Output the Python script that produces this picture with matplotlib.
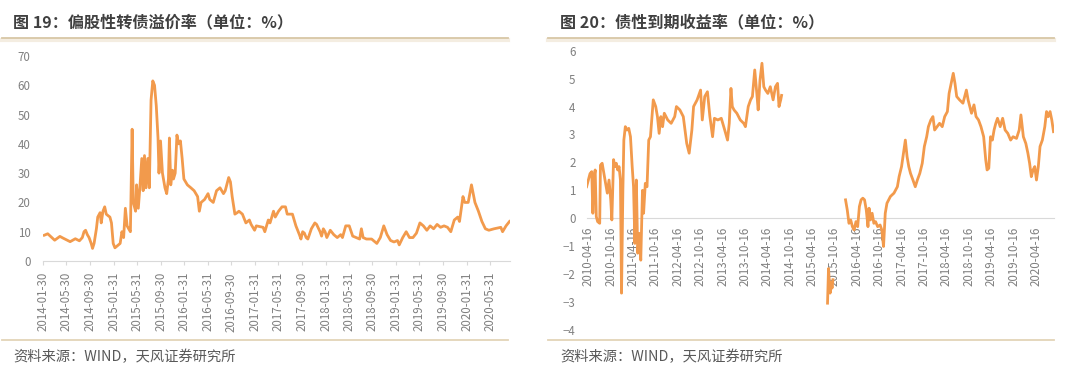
import numpy as np
import pandas as pd
import matplotlib
matplotlib.use("Agg")
import matplotlib.pyplot as plt
from matplotlib.lines import Line2D

plt.rcParams['font.family'] = ['Noto Sans CJK SC', 'DejaVu Sans']

# ---- 图19 偏股性转债溢价率 (%) ----
left_dates = [
    "2014-02-04", "2014-02-22", "2014-03-12", "2014-03-30", "2014-04-26", "2014-05-13",
    "2014-06-18", "2014-07-15", "2014-08-05", "2014-08-20", "2014-08-29", "2014-09-06",
    "2014-09-15", "2014-09-24", "2014-10-05", "2014-10-12", "2014-10-20", "2014-11-01",
    "2014-11-08", "2014-11-20", "2014-11-26", "2014-12-05", "2014-12-14", "2014-12-22",
    "2014-12-31", "2015-01-10", "2015-01-18", "2015-01-27", "2015-02-05", "2015-02-14",
    "2015-03-04", "2015-03-13", "2015-03-22", "2015-03-31", "2015-04-09", "2015-04-17",
    "2015-04-26", "2015-05-05", "2015-05-11", "2015-05-23", "2015-05-28", "2015-06-06",
    "2015-06-14", "2015-06-24", "2015-07-01", "2015-07-08", "2015-07-16", "2015-07-25",
    "2015-08-02", "2015-08-11", "2015-08-20", "2015-08-29", "2015-09-07", "2015-09-16",
    "2015-09-21", "2015-09-29", "2015-10-09", "2015-10-22", "2015-10-31", "2015-11-09",
    "2015-11-14", "2015-11-21", "2015-11-30", "2015-12-05", "2015-12-14", "2015-12-23",
    "2016-01-01", "2016-01-10", "2016-01-19", "2016-01-28", "2016-02-15", "2016-03-04",
    "2016-03-21", "2016-04-08", "2016-04-17", "2016-04-26", "2016-05-14", "2016-06-01",
    "2016-06-10", "2016-06-28", "2016-07-15", "2016-08-02", "2016-08-20", "2016-08-29",
    "2016-09-16", "2016-09-25", "2016-10-04", "2016-10-18", "2016-10-30", "2016-11-08",
    "2016-11-26", "2016-12-14", "2017-01-01", "2017-01-10", "2017-01-28", "2017-02-06",
    "2017-03-13", "2017-03-22", "2017-04-09", "2017-04-18", "2017-05-06", "2017-05-15",
    "2017-06-01", "2017-06-19", "2017-07-07", "2017-07-16", "2017-08-12", "2017-08-30",
    "2017-09-17", "2017-09-25", "2017-10-04", "2017-10-13", "2017-10-22", "2017-10-31",
    "2017-11-18", "2017-12-06", "2017-12-15", "2018-01-02", "2018-01-10", "2018-01-19",
    "2018-01-28", "2018-02-06", "2018-02-24", "2018-03-14", "2018-04-01", "2018-04-19",
    "2018-04-28", "2018-05-15", "2018-06-02", "2018-06-20", "2018-07-08", "2018-07-26",
    "2018-08-04", "2018-08-13", "2018-08-30", "2018-09-26", "2018-10-23", "2018-11-10",
    "2018-11-28", "2018-12-15", "2019-01-02", "2019-01-20", "2019-02-07", "2019-02-16",
    "2019-03-06", "2019-03-24", "2019-04-10", "2019-04-28", "2019-05-16", "2019-06-03",
    "2019-06-21", "2019-07-09", "2019-07-26", "2019-08-13", "2019-08-31", "2019-09-18",
    "2019-10-06", "2019-10-24", "2019-11-10", "2019-11-28", "2019-12-16", "2019-12-25",
    "2020-01-12", "2020-01-21", "2020-02-08", "2020-02-25", "2020-03-14", "2020-04-01",
    "2020-04-19", "2020-05-07", "2020-05-25", "2020-06-21", "2020-07-26", "2020-08-04",
    "2020-08-22", "2020-09-09",
]
left_vals = [
    8.8, 9.3, 8.2, 7.1, 8.4, 7.8,
    6.6, 7.6, 6.9, 8.0, 10.0, 10.5,
    9.0, 8.0, 6.0, 4.3, 6.0, 11.0,
    15.0, 16.5, 13.0, 17.0, 18.5, 16.0,
    15.5, 15.0, 13.0, 6.0, 4.5, 5.0,
    6.0, 10.0, 8.0, 18.0, 12.0, 11.0,
    10.0, 45.0, 20.0, 17.0, 26.0, 18.0,
    25.0, 35.0, 24.0, 36.0, 25.0, 35.0,
    25.0, 55.0, 61.5, 60.0, 53.0, 42.0,
    30.0, 41.0, 30.0, 25.0, 23.0, 28.0,
    42.0, 26.0, 31.0, 28.0, 30.0, 43.0,
    40.0, 41.0, 35.0, 28.0, 26.0, 25.0,
    24.0, 22.0, 17.0, 20.0, 21.0, 23.0,
    21.0, 20.0, 24.0, 25.0, 23.0, 24.0,
    28.5, 27.0, 22.0, 16.0, 16.5, 17.0,
    16.0, 13.0, 14.0, 12.5, 10.5, 12.0,
    11.5, 10.0, 14.0, 13.0, 17.0, 15.0,
    17.0, 18.5, 18.5, 16.0, 16.0, 12.0,
    9.0, 7.5, 10.0, 9.5, 8.0, 7.5,
    11.0, 13.0, 12.5, 10.0, 8.5, 11.0,
    10.0, 8.0, 10.5, 9.0, 8.0, 9.0,
    8.0, 12.0, 12.0, 8.5, 8.0, 7.5,
    11.0, 8.0, 7.5, 7.5, 6.0, 8.0,
    12.0, 9.0, 7.0, 6.5, 7.0, 5.5,
    8.0, 10.0, 8.0, 8.0, 9.5, 13.0,
    12.0, 10.5, 12.0, 11.0, 12.5, 11.5,
    12.0, 11.5, 10.0, 14.0, 15.0, 13.5,
    22.0, 20.0, 20.0, 26.0, 20.0, 17.0,
    13.5, 11.0, 10.5, 11.0, 11.5, 10.0,
    12.0, 13.5,
]
left_ticks = [
    "2014-01-30", "2014-05-30", "2014-09-30", "2015-01-31", "2015-05-31", "2015-09-30",
    "2016-01-31", "2016-05-31", "2016-09-30", "2017-01-31", "2017-05-31", "2017-09-30",
    "2018-01-31", "2018-05-31", "2018-09-30", "2019-01-31", "2019-05-31", "2019-09-30",
    "2020-01-31", "2020-05-31",
]

# ---- 图20 债性到期收益率 (%) ----  None = 无数据
right_dates = [
    "2010-04-02", "2010-04-16", "2010-04-30", "2010-05-14", "2010-05-23", "2010-06-03",
    "2010-06-11", "2010-06-20", "2010-07-01", "2010-07-18", "2010-07-24", "2010-08-07",
    "2010-08-21", "2010-09-04", "2010-09-18", "2010-10-02", "2010-10-16", "2010-10-25",
    "2010-11-08", "2010-11-19", "2010-11-30", "2010-12-12", "2010-12-23", "2011-01-03",
    "2011-01-12", "2011-01-23", "2011-01-31", "2011-02-12", "2011-02-26", "2011-03-12",
    "2011-03-26", "2011-04-09", "2011-04-20", "2011-05-01", "2011-05-13", "2011-05-24",
    "2011-06-07", "2011-06-18", "2011-07-02", "2011-07-11", "2011-07-25", "2011-08-08",
    "2011-08-22", "2011-09-05", "2011-09-28", "2011-10-18", "2011-11-01", "2011-11-15",
    "2011-11-29", "2011-12-13", "2011-12-27", "2012-01-24", "2012-02-21", "2012-03-21",
    "2012-04-04", "2012-05-02", "2012-05-30", "2012-06-27", "2012-07-17", "2012-08-08",
    "2012-08-22", "2012-09-20", "2012-10-18", "2012-11-01", "2012-11-21", "2012-12-13",
    "2013-01-02", "2013-01-24", "2013-02-08", "2013-03-08", "2013-04-05", "2013-05-03",
    "2013-05-26", "2013-06-09", "2013-06-23", "2013-07-04", "2013-07-18", "2013-08-10",
    "2013-09-07", "2013-10-05", "2013-10-19", "2013-11-11", "2013-11-30", "2013-12-15",
    "2014-01-03", "2014-01-20", "2014-01-31", "2014-02-15", "2014-03-03", "2014-03-18",
    "2014-04-01", "2014-04-20", "2014-05-10", "2014-06-02", "2014-06-21", "2014-07-08",
    "2014-07-20", "2014-08-03", "2014-08-10",
    "2014-09-01",
    "2015-08-20", "2015-08-28", "2015-09-10", "2015-09-20", "2015-09-26", "2015-10-03",
    "2015-11-01",
    "2016-01-14", "2016-01-28", "2016-02-11", "2016-02-25", "2016-03-10", "2016-03-24",
    "2016-04-08", "2016-04-22", "2016-05-06", "2016-05-20", "2016-06-03", "2016-06-17",
    "2016-07-01", "2016-07-15", "2016-07-24", "2016-08-04", "2016-08-18", "2016-09-01",
    "2016-09-15", "2016-10-02", "2016-10-22", "2016-11-05", "2016-11-19", "2016-12-03",
    "2016-12-17", "2017-01-14", "2017-02-12", "2017-03-12", "2017-03-26", "2017-04-15",
    "2017-05-01", "2017-05-16", "2017-05-30", "2017-06-13", "2017-06-27", "2017-07-17",
    "2017-08-05", "2017-08-22", "2017-09-11", "2017-10-01", "2017-10-18", "2017-11-06",
    "2017-11-20", "2017-12-10", "2017-12-27", "2018-01-10", "2018-01-30", "2018-02-19",
    "2018-03-13", "2018-04-02", "2018-04-24", "2018-05-08", "2018-05-25", "2018-06-11",
    "2018-06-25", "2018-07-09", "2018-08-01", "2018-08-29", "2018-09-26", "2018-10-10",
    "2018-10-24", "2018-11-07", "2018-11-27", "2018-12-14", "2019-01-03", "2019-01-23",
    "2019-02-14", "2019-03-03", "2019-03-14", "2019-03-28", "2019-04-11", "2019-04-26",
    "2019-05-10", "2019-05-24", "2019-06-07", "2019-06-29", "2019-07-19", "2019-08-08",
    "2019-08-30", "2019-09-22", "2019-10-12", "2019-11-09", "2019-12-01", "2019-12-15",
    "2020-01-04", "2020-01-24", "2020-02-10", "2020-02-24", "2020-03-09", "2020-03-23",
    "2020-04-06", "2020-04-20", "2020-05-05", "2020-05-19", "2020-06-07", "2020-06-27",
    "2020-07-11", "2020-07-25", "2020-08-09", "2020-08-23", "2020-09-06",
]
right_vals = [
    1.13, 1.37, 1.60, 1.67, 0.18, 1.50,
    1.73, 0.06, -0.12, -0.18, 1.90, 1.97,
    1.60, 1.25, 0.90, 1.37, 0.66, -0.06,
    2.10, 1.85, 1.97, 1.73, 1.85, 1.37,
    -2.68, 1.00, 2.80, 3.28, 3.16, 3.22,
    2.92, 1.85, 1.13, -0.90, 1.37, -1.25,
    -0.54, -1.50, 1.00, 0.18, 1.25, 1.13,
    2.80, 2.92, 4.24, 4.00, 3.64, 3.04,
    3.64, 3.28, 3.76, 3.52, 3.40, 3.64,
    4.00, 3.88, 3.64, 2.68, 2.33, 3.16,
    4.00, 4.24, 4.59, 3.52, 4.36, 4.53,
    3.64, 2.92, 3.58, 3.52, 3.58, 3.16,
    2.80, 3.40, 4.65, 4.00, 3.88, 3.76,
    3.52, 3.40, 3.28, 4.00, 4.24, 4.36,
    5.31, 4.47, 3.88, 4.95, 5.55, 4.71,
    4.59, 4.47, 4.71, 4.24, 4.71, 4.83,
    4.00, 4.24, 4.40,
    None,
    -3.04, -1.80, -2.68, -2.30, -2.50, -2.20,
    None,
    0.66, 0.30, -0.18, -0.06, -0.30, -0.42,
    -0.12, -0.30, 0.42, 0.66, 0.72, 0.66,
    0.30, -0.30, 0.36, -0.06, 0.18, -0.18,
    -0.12, -0.30, -0.24, -0.42, -1.01, 0.18,
    0.54, 0.78, 0.90, 1.13, 1.49, 1.85,
    2.33, 2.80, 2.21, 1.85, 1.61, 1.37,
    1.13, 1.37, 1.61, 1.97, 2.57, 2.92,
    3.28, 3.52, 3.64, 3.16, 3.28, 3.40,
    3.28, 3.64, 3.82, 4.47, 4.83, 5.19,
    4.83, 4.36, 4.24, 4.12, 4.59, 4.24,
    4.00, 3.76, 4.06, 3.64, 3.52, 3.28,
    2.92, 2.09, 1.73, 1.79, 2.92, 2.80,
    3.16, 3.40, 3.58, 3.28, 3.58, 3.16,
    3.04, 2.80, 2.92, 2.86, 3.16, 3.70,
    2.92, 2.68, 2.33, 1.97, 1.49, 1.73,
    1.85, 1.37, 1.85, 2.57, 2.80, 3.28,
    3.82, 3.64, 3.82, 3.52, 3.10,
]
right_ticks = [
    "2010-04-16", "2010-10-16", "2011-04-16", "2011-10-16", "2012-04-16", "2012-10-16",
    "2013-04-16", "2013-10-16", "2014-04-16", "2014-10-16", "2015-04-16", "2015-10-16",
    "2016-04-16", "2016-10-16", "2017-04-16", "2017-10-16", "2018-04-16", "2018-10-16",
    "2019-04-16", "2019-10-16", "2020-04-16",
]

titles = ["图 19：偏股性转债溢价率（单位：%）", "图 20：债性到期收益率（单位：%）"]
source = "资料来源：WIND，天风证券研究所"

line_color = "#F29A4C"
label_color = "#808080"
W, H = 1080, 377

fig = plt.figure(figsize=(W / 100, H / 100), dpi=100)


def fx(px):
    return px / W


def fy(py):
    return 1 - py / H


# left chart
ax1 = fig.add_axes([fx(42.9), fy(261), fx(467.2), 205 / H])
ax1.plot(pd.to_datetime(left_dates), left_vals, color=line_color, lw=2.0, solid_joinstyle="round", zorder=3)
ax1.set_ylim(0, 70)
ax1.set_yticks(range(0, 71, 10))
ax1.set_xlim(pd.Timestamp("2014-01-28"), pd.Timestamp("2020-09-12"))
ax1.set_xticks(pd.to_datetime(left_ticks))
ax1.set_xticklabels(left_ticks, rotation=90, va="top", ha="center")
ax1.tick_params(axis="x", length=3, color="#d9d9d9", pad=5, labelsize=8.3, labelcolor=label_color)
ax1.tick_params(axis="y", length=0, pad=9, labelsize=8.3, labelcolor=label_color)
for s in ["top", "right", "left"]:
    ax1.spines[s].set_visible(False)
ax1.spines["bottom"].set_color("#d9d9d9")

# right chart
r_vals = np.array([np.nan if v is None else v for v in right_vals], dtype=float)
ax2 = fig.add_axes([fx(586.6), fy(330), fx(467.4), 279.3 / H])
for s in ["top", "right", "left"]:
    ax2.spines[s].set_visible(False)
ax2.spines["bottom"].set_position(("data", 0))
ax2.spines["bottom"].set_color("#d9d9d9")
ax2.spines["bottom"].set_zorder(0)
ax2.plot(pd.to_datetime(right_dates), r_vals, color=line_color, lw=2.0, solid_joinstyle="round", zorder=3)
ax2.set_ylim(-4, 6)
ax2.set_yticks(range(-4, 7))
ax2.set_xlim(pd.Timestamp("2010-04-02"), pd.Timestamp("2020-09-10"))
ax2.set_xticks(pd.to_datetime(right_ticks))
ax2.set_xticklabels(right_ticks, rotation=90, va="top", ha="center")
ax2.tick_params(axis="x", length=0, pad=6, labelsize=8.3, labelcolor=label_color)
ax2.tick_params(axis="y", length=0, pad=8, labelsize=8.3, labelcolor=label_color)

# titles, rules and footers
for x0, x1, tx, title in [(2, 508, 13, titles[0]), (548, 1054, 560, titles[1])]:
    fig.add_artist(Line2D([fx(x0), fx(x1)], [fy(39.5), fy(39.5)], color="#f4ede1", lw=3))
    fig.add_artist(Line2D([fx(x0), fx(x1)], [fy(38), fy(38)], color="#d8c7a6", lw=1.3))
    fig.add_artist(Line2D([fx(x0), fx(x1)], [fy(340), fy(340)], color="#e3d4b8", lw=1.3))
    fig.text(fx(tx), fy(22), title, fontsize=11.6, fontweight="bold", color="#404040", va="center", ha="left")
    fig.text(fx(tx), fy(357), source, fontsize=10.3, color="#595959", va="center", ha="left")

fig.savefig("out.png", dpi=100, facecolor="white")
